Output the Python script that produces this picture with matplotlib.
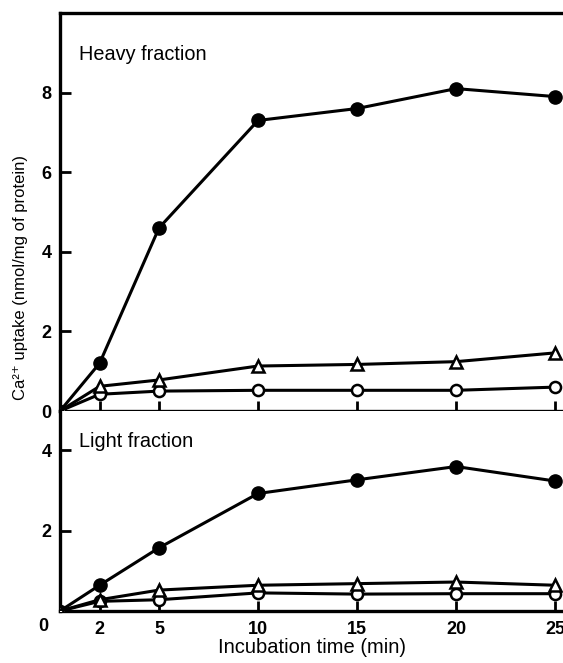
import numpy as np
import matplotlib.pyplot as plt

plt.rcParams['font.family'] = ['Liberation Sans', 'DejaVu Sans']

# incubation times (min)
times = [0, 2, 5, 10, 15, 20, 25]

# heavy fraction, Ca2+ uptake (nmol/mg of protein)
heavy_filled = [0, 1.2, 4.6, 7.3, 7.6, 8.1, 7.9]
heavy_triangle = [0, 0.62, 0.78, 1.13, 1.17, 1.24, 1.46]
heavy_open = [0, 0.42, 0.5, 0.52, 0.52, 0.52, 0.6]

# light fraction
light_filled = [0, 0.64, 1.57, 2.92, 3.26, 3.59, 3.23]
light_triangle = [0, 0.28, 0.52, 0.64, 0.68, 0.72, 0.64]
light_open = [0, 0.24, 0.28, 0.45, 0.42, 0.43, 0.43]

x_ticks = [2, 5, 10, 15, 20, 25]
heavy_yticks = [0, 2, 4, 6, 8]
light_yticks = [2, 4]

fig = plt.figure(figsize=(5.63, 6.63), dpi=100)
left = 60 / 563
ax_h = fig.add_axes([left, 1 - 411 / 663, 1 - left, 398 / 663])
ax_l = fig.add_axes([left, 1 - 611 / 663, 1 - left, 200 / 663])

lw = 2.2


def draw(ax, filled, tri, opn):
    ax.plot(times, opn, color='black', lw=lw, marker='o', ms=8,
            mfc='white', mec='black', mew=1.8, zorder=3)
    ax.plot(times, tri, color='black', lw=lw, marker='^', ms=9,
            mfc='white', mec='black', mew=1.8, zorder=3)
    ax.plot(times, filled, color='black', lw=lw, marker='o', ms=9.5,
            mfc='black', mec='black', zorder=4, markevery=list(range(1, 7)))
    ax.set_xlim(0, 25.4)
    ax.spines['right'].set_visible(False)
    for s in ['left', 'bottom', 'top']:
        ax.spines[s].set_linewidth(2.4)
    ax.set_xticks(x_ticks)
    ax.tick_params(axis='x', direction='in', length=7, width=2)
    ax.tick_params(axis='y', direction='in', length=8, width=2, pad=6,
                   labelsize=13)


draw(ax_h, heavy_filled, heavy_triangle, heavy_open)
draw(ax_l, light_filled, light_triangle, light_open)

ax_h.set_ylim(0, 10)
ax_h.set_yticks(heavy_yticks)
ax_h.set_yticklabels([str(v) for v in heavy_yticks], fontweight='bold')
ax_h.set_xticklabels([])
ax_h.text(0.95, 8.95, 'Heavy fraction', fontsize=14.3, va='center', ha='left')

ax_l.set_ylim(0, 4.97)
ax_l.set_yticks(light_yticks)
ax_l.set_yticklabels([str(v) for v in light_yticks], fontweight='bold')
ax_l.spines['top'].set_visible(False)
ax_l.set_xticklabels([str(v) for v in x_ticks], fontweight='bold', fontsize=13)
ax_l.tick_params(axis='x', pad=7)
ax_l.text(0.95, 4.2, 'Light fraction', fontsize=14.3, va='center', ha='left')
ax_l.text(-0.85, -0.18, '0', fontsize=13, fontweight='bold',
          ha='center', va='top')
ax_l.set_xlabel('Incubation time (min)', fontsize=14.5, labelpad=0)

fig.text(0.037, 0.582, 'Ca²⁺ uptake (nmol/mg of protein)', rotation=90,
         fontsize=12, ha='center', va='center')

fig.savefig('out.png', dpi=100)
